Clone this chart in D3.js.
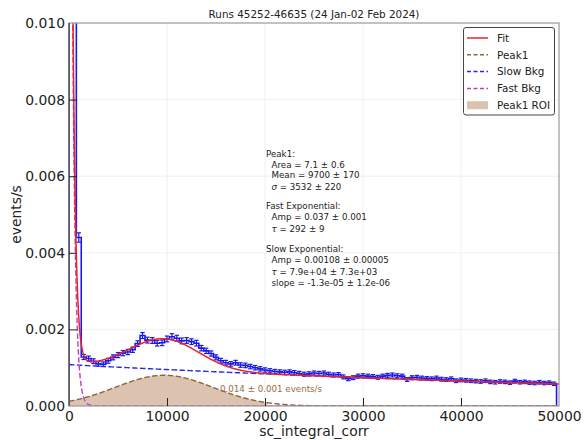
<!DOCTYPE html>
<html>
<head>
<meta charset="utf-8">
<script src="https://cdn.jsdelivr.net/npm/d3@7"></script>
<style>
  body { margin: 0; background: #fff; }
  svg { display: block; }
  text { font-family: "DejaVu Sans", sans-serif; }
</style>
</head>
<body>
<svg id="chart" width="584" height="440"></svg>
<script>
// ---- histogram: rate per 500-unit bin, bin centres at 0, 500, 1000, ...
const binWidth = 500;
const rates = [
  0.0340, 0.0125, 0.00440, 0.00128, 0.00124, 0.00117, 0.00110, 0.00109, 0.00118, 0.00127,
  0.00133, 0.00138, 0.00141, 0.00147, 0.00163, 0.00184, 0.00172, 0.00171, 0.00164, 0.00165,
  0.00175, 0.00181, 0.00177, 0.00170, 0.00171, 0.00168, 0.00164, 0.00151, 0.00144, 0.00137,
  0.00127, 0.00118, 0.00113, 0.00110, 0.00113, 0.00107, 0.00106, 0.00103, 0.00100, 0.00097,
  0.00094, 0.00092, 0.00090, 0.00089, 0.00088, 0.00089, 0.00087, 0.00085, 0.00083, 0.00084,
  0.00086, 0.00085, 0.00086, 0.00083, 0.00081, 0.00082, 0.00076, 0.00071, 0.00074, 0.00078,
  0.00079, 0.00078, 0.00077, 0.00075, 0.00078, 0.00080, 0.00081, 0.00079, 0.00078, 0.00069,
  0.00074, 0.00075, 0.00073, 0.00072, 0.00071, 0.00073, 0.00070, 0.00069, 0.00071, 0.00066,
  0.00068, 0.00067, 0.00066, 0.00065, 0.00064, 0.00066, 0.00063, 0.00062, 0.00064, 0.00063,
  0.00061, 0.00065, 0.00062, 0.00063, 0.00061, 0.00060, 0.00062, 0.00060, 0.00061, 0.00058
];
const liveTime = 3.0e5;          // seconds, for Poisson error bars

// ---- fit results
const peak1 = { area: 7.1, areaErr: 0.6, mean: 9700, meanErr: 170, sigma: 3532, sigmaErr: 220 };
const fastExp = { amp: 0.037, ampErr: 0.001, tau: 292, tauErr: 9 };
const slowExp = { amp: 0.00108, ampErr: 0.00005, tau: 7.9e4, tauErr: 7.3e3, slope: -1.3e-5, slopeErr: 1.2e-6 };
const roiRate = { value: 0.014, err: 0.001 };

// ---- axes
const xTicks = [0, 10000, 20000, 30000, 40000, 50000];
const yTicks = [0, 0.002, 0.004, 0.006, 0.008, 0.010];
const xDomain = [0, 50000];
const yDomain = [0, 0.010];

const title = "Runs 45252-46635 (24 Jan-02 Feb 2024)";
const xLabel = "sc_integral_corr";
const yLabel = "events/s";

const legendItems = [
  { label: "Fit", kind: "line", color: "#e8232a", dash: null },
  { label: "Peak1", kind: "line", color: "#8c6440", dash: "4,2.5" },
  { label: "Slow Bkg", kind: "line", color: "#2a2ae6", dash: "4,2.5" },
  { label: "Fast Bkg", kind: "line", color: "#c040c0", dash: "4,2.5" },
  { label: "Peak1 ROI", kind: "fill", color: "#dcc3b0" }
];

// ---- layout
const W = 584, H = 440;
const m = { left: 69, right: 25, top: 23, bottom: 34 };
const x = d3.scaleLinear().domain(xDomain).range([m.left, W - m.right]);
const y = d3.scaleLinear().domain(yDomain).range([H - m.bottom, m.top]);

const svg = d3.select("#chart");
svg.append("rect").attr("width", W).attr("height", H).attr("fill", "#fff");

svg.append("defs").append("clipPath").attr("id", "plotClip")
  .append("rect")
  .attr("x", x(xDomain[0])).attr("y", y(yDomain[1]))
  .attr("width", x(xDomain[1]) - x(xDomain[0]))
  .attr("height", y(yDomain[0]) - y(yDomain[1]));

// grid
const grid = svg.append("g").attr("stroke", "#ececec").attr("stroke-width", 0.8);
xTicks.slice(1, -1).forEach(t => grid.append("line")
  .attr("x1", x(t)).attr("x2", x(t)).attr("y1", y(yDomain[0])).attr("y2", y(yDomain[1])));
yTicks.slice(1, -1).forEach(t => grid.append("line")
  .attr("y1", y(t)).attr("y2", y(t)).attr("x1", x(xDomain[0])).attr("x2", x(xDomain[1])));

const plot = svg.append("g").attr("clip-path", "url(#plotClip)");

// model components
const peakHeight = peak1.area / (peak1.sigma * Math.sqrt(2 * Math.PI));
const gaussPeak = v => peakHeight * Math.exp(-((v - peak1.mean) ** 2) / (2 * peak1.sigma ** 2));
// Peak1 component curve and its ROI band (broadened display width)
const peakCurve = v => peakHeight * Math.exp(-((v - peak1.mean) ** 2) / (4 * peak1.sigma ** 2));
const fastBkg = v => fastExp.amp * Math.exp(-v / fastExp.tau);
const slowBkg = v => slowExp.amp * Math.exp(-v / slowExp.tau);
const fitTotal = v => gaussPeak(v) + fastBkg(v) + slowBkg(v);

const sampleX = d3.range(xDomain[0], xDomain[1] + 1, 25);
const lineOf = f => d3.line().x(v => x(v)).y(v => y(Math.min(f(v), 0.02)))(sampleX);

// Peak1 ROI: mean +/- 3 sigma
const roiLo = Math.max(xDomain[0], peak1.mean - 3 * peak1.sigma);
const roiHi = Math.min(xDomain[1], peak1.mean + 3 * peak1.sigma);
const roiX = d3.range(roiLo, roiHi, 25).concat([roiHi]);
plot.append("path")
  .attr("d", d3.area().x(v => x(v)).y0(y(0)).y1(v => y(peakCurve(v)))(roiX))
  .attr("fill", legendItems[4].color);

// histogram outline (step)
const centers = rates.map((_, i) => i * binWidth);
const steps = [];
rates.forEach((r, i) => {
  const x0 = Math.max(xDomain[0], centers[i] - binWidth / 2);
  const x1 = Math.min(xDomain[1], centers[i] + binWidth / 2);
  if (i === 0) steps.push([x0, 0]);
  steps.push([x0, r], [x1, r]);
  if (i === rates.length - 1) steps.push([x1, 0]);
});
const histColor = "#1a1ae6";
plot.append("path")
  .attr("d", d3.line().x(d => x(d[0])).y(d => y(Math.min(d[1], 0.02)))(steps))
  .attr("fill", "none").attr("stroke", histColor).attr("stroke-width", 1.6);

// error bars
const eb = plot.append("g").attr("stroke", histColor).attr("stroke-width", 1.2);
rates.forEach((r, i) => {
  const e = Math.sqrt(r / liveTime);
  const cx = x(centers[i]);
  const yLo = y(r - e), yHi = y(Math.min(r + e, 0.02));
  eb.append("line").attr("x1", cx).attr("x2", cx).attr("y1", yLo).attr("y2", yHi);
  eb.append("line").attr("x1", cx - 2.2).attr("x2", cx + 2.2).attr("y1", yLo).attr("y2", yLo);
  eb.append("line").attr("x1", cx - 2.2).attr("x2", cx + 2.2).attr("y1", yHi).attr("y2", yHi);
});

// component curves
plot.append("path").attr("d", lineOf(slowBkg)).attr("fill", "none")
  .attr("stroke", legendItems[2].color).attr("stroke-width", 1.4).attr("stroke-dasharray", "5.5,2.4");
plot.append("path").attr("d", lineOf(fastBkg)).attr("fill", "none")
  .attr("stroke", legendItems[3].color).attr("stroke-width", 1.4).attr("stroke-dasharray", "5.5,2.4");
plot.append("path").attr("d", lineOf(peakCurve)).attr("fill", "none")
  .attr("stroke", legendItems[1].color).attr("stroke-width", 1.4).attr("stroke-dasharray", "5.5,2.4");
plot.append("path").attr("d", lineOf(fitTotal)).attr("fill", "none")
  .attr("stroke", legendItems[0].color).attr("stroke-width", 1.5);

// frame
svg.append("rect")
  .attr("x", x(xDomain[0])).attr("y", y(yDomain[1]))
  .attr("width", x(xDomain[1]) - x(xDomain[0]))
  .attr("height", y(yDomain[0]) - y(yDomain[1]))
  .attr("fill", "none").attr("stroke", "#9a9a9a").attr("stroke-width", 1.2);
svg.append("line").attr("x1", x(0)).attr("x2", x(0)).attr("y1", y(yDomain[0])).attr("y2", y(yDomain[1]))
  .attr("stroke", "#333").attr("stroke-width", 1);

// axes with inward ticks
const fontTick = "13.9px";
const xAxis = svg.append("g").attr("transform", `translate(0,${y(0)})`)
  .call(d3.axisBottom(x).tickValues(xTicks).tickFormat(d3.format("d")).tickSizeInner(-8).tickSizeOuter(0).tickPadding(5));
const yAxis = svg.append("g").attr("transform", `translate(${x(0)},0)`)
  .call(d3.axisLeft(y).tickValues(yTicks).tickFormat(d3.format(".3f")).tickSizeInner(-8).tickSizeOuter(0).tickPadding(4));
[xAxis, yAxis].forEach(a => {
  a.select(".domain").remove();
  a.selectAll(".tick line").attr("stroke", "#222");
  a.selectAll(".tick text").attr("fill", "#222").style("font-size", fontTick)
    .style("font-family", '"DejaVu Sans", sans-serif');
});
xAxis.selectAll(".tick").filter(d => d === xTicks[0] || d === xTicks[xTicks.length - 1])
  .select("line").remove();
yAxis.selectAll(".tick").filter(d => d === yTicks[0] || d === yTicks[yTicks.length - 1])
  .select("line").remove();

// titles
svg.append("text").attr("x", (x(xDomain[0]) + x(xDomain[1])) / 2).attr("y", 18)
  .attr("text-anchor", "middle").style("font-size", "10.4px").attr("fill", "#222").text(title);
svg.append("text").attr("x", (x(xDomain[0]) + x(xDomain[1])) / 2).attr("y", 436)
  .attr("text-anchor", "middle").style("font-size", "13.9px").attr("fill", "#222").text(xLabel);
svg.append("text").attr("transform", `translate(21,${(y(yDomain[0]) + y(yDomain[1])) / 2}) rotate(-90)`)
  .attr("text-anchor", "middle").style("font-size", "13.9px").attr("fill", "#222").text(yLabel);

// fit parameter box
const sci = v => {
  const [mant, ex] = v.toExponential(1).split("e");
  const sign = ex[0] === "-" ? "-" : "+";
  const digits = ex.replace(/[+-]/, "").padStart(2, "0");
  return `${mant}e${sign}${digits}`;
};
const pm = " \u00b1 ";
const paramLines = [
  { t: [["Peak1:", false]], ind: false, b: 157 },
  { t: [[`Area = ${peak1.area}${pm}${peak1.areaErr}`, false]], ind: true, b: 167.5 },
  { t: [[`Mean = ${peak1.mean}${pm}${peak1.meanErr}`, false]], ind: true, b: 178 },
  { t: [["\u03c3", true], [` = ${peak1.sigma}${pm}${peak1.sigmaErr}`, false]], ind: true, b: 189.5 },
  { t: [["Fast Exponential:", false]], ind: false, b: 209 },
  { t: [[`Amp = ${fastExp.amp}${pm}${fastExp.ampErr}`, false]], ind: true, b: 219.5 },
  { t: [["\u03c4", true], [` = ${fastExp.tau}${pm}${fastExp.tauErr}`, false]], ind: true, b: 231.5 },
  { t: [["Slow Exponential:", false]], ind: false, b: 252 },
  { t: [[`Amp = ${slowExp.amp}${pm}${slowExp.ampErr.toFixed(5)}`, false]], ind: true, b: 262.5 },
  { t: [["\u03c4", true], [` = ${sci(slowExp.tau)}${pm}${sci(slowExp.tauErr)}`, false]], ind: true, b: 275 },
  { t: [[`slope = ${sci(slowExp.slope)}${pm}${sci(slowExp.slopeErr)}`, false]], ind: true, b: 285.5 }
];
const pbox = svg.append("g").style("font-size", "8.7px").attr("fill", "#222");
paramLines.forEach(l => {
  const t = pbox.append("text").attr("x", l.ind ? 271.5 : 266).attr("y", l.b);
  l.t.forEach(([s, it]) => t.append("tspan").style("font-style", it ? "italic" : "normal").text(s));
});

// ROI rate label
svg.append("text").attr("x", 220).attr("y", 392)
  .style("font-size", "8.7px").attr("fill", "#9a6a48")
  .text(`${roiRate.value}${pm}${roiRate.err} events/s`);

// legend
const lg = svg.append("g");
lg.append("rect").attr("x", 463.5).attr("y", 27.5).attr("width", 91).attr("height", 87.5)
  .attr("rx", 2.5).attr("fill", "#fff").attr("fill-opacity", 0.9)
  .attr("stroke", "#444").attr("stroke-width", 1);
legendItems.forEach((it, i) => {
  const cy = 38 + i * 16.8;
  if (it.kind === "line") {
    lg.append("line").attr("x1", 467).attr("x2", 488).attr("y1", cy).attr("y2", cy)
      .attr("stroke", it.color).attr("stroke-width", 1.5)
      .attr("stroke-dasharray", it.dash);
  } else {
    lg.append("rect").attr("x", 467).attr("y", cy - 4).attr("width", 21).attr("height", 8)
      .attr("fill", it.color);
  }
  lg.append("text").attr("x", 497).attr("y", cy).attr("dy", "0.36em")
    .style("font-size", "10.4px").attr("fill", "#222").text(it.label);
});
</script>
</body>
</html>
